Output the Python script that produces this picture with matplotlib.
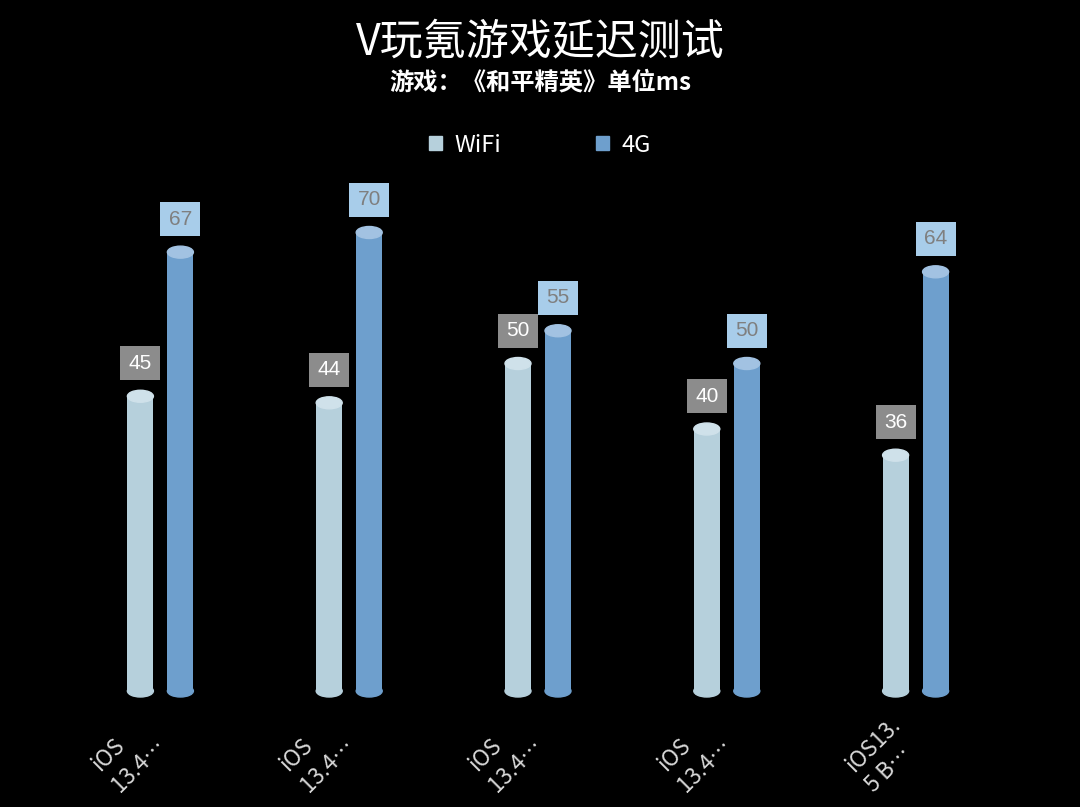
import matplotlib.pyplot as plt
from matplotlib.patches import Ellipse, Patch, Rectangle
from matplotlib.transforms import ScaledTranslation

plt.rcParams['font.family'] = ['Noto Sans CJK SC', 'DejaVu Sans']

# 数据
categories = ['iOS\n13.4…', 'iOS\n13.4…', 'iOS\n13.4…', 'iOS\n13.4…', 'iOS13.\n5 B…']
wifi = [45, 44, 50, 40, 36]
g4 = [67, 70, 55, 50, 64]
series_names = ['WiFi', '4G']

wifi_body = '#b6d0dc'
wifi_top = '#cfe1ea'
g4_body = '#6e9fcd'
g4_top = '#a2c2e2'

# 像素比例
ppx = 188.8   # px per category
ppy = 6.55    # px per ms

fig = plt.figure(figsize=(10.8, 8.07), dpi=100, facecolor='black')
ax = fig.add_axes([66 / 1080, (807 - 691 - 3 * ppy) / 807, 944 / 1080, 83 * ppy / 807])
ax.set_facecolor('black')
ax.set_xlim(-0.5, 4.5)
ax.set_ylim(-3, 80)

bw = 26 / ppx
off = 20 / ppx
eh = 12 / ppy
box_w = 40 / ppx
box_h = 34 / ppy
box_gap = 16 / ppy


def cylinders(xs, vals, body, top, box, txt):
    ax.bar(xs, vals, width=bw, color=body, zorder=2)
    for x, v in zip(xs, vals):
        ax.add_patch(Ellipse((x, 0), bw, eh, color=body, zorder=2))
        ax.add_patch(Ellipse((x, v), bw, eh, color=top, zorder=3))
        ax.add_patch(Rectangle((x - box_w / 2, v + box_gap), box_w, box_h,
                               fc=box, ec='none', zorder=3))
        ax.text(x, v + box_gap + box_h / 2, str(v), ha='center', va='center',
                fontsize=15, color=txt, family='Liberation Sans', zorder=4)


xs = list(range(len(categories)))
cylinders([x - off for x in xs], wifi, wifi_body, wifi_top, '#8c8c8c', 'white')
cylinders([x + off for x in xs], g4, g4_body, g4_top, '#a8cdea', '#7f7f7f')

for s in ax.spines.values():
    s.set_visible(False)
ax.set_yticks([])
ax.set_xticks(xs)
ax.set_xticklabels(categories, rotation=45, ha='right', va='top',
                   rotation_mode='anchor', fontsize=16, color='#d8d8d8',
                   linespacing=1.3, multialignment='left')
ax.tick_params(axis='x', length=0, pad=2)
for lab in ax.get_xticklabels():
    lab.set_transform(lab.get_transform() + ScaledTranslation(-0.27, 0, fig.dpi_scale_trans))

fig.text(0.5, 1 - 42 / 807, 'V玩氪游戏延迟测试', ha='center', va='center',
         fontsize=31, color='white')
fig.text(0.5, 1 - 82 / 807, '游戏：《和平精英》单位ms', ha='center', va='center',
         fontsize=17.5, color='white', fontweight='bold')

handles = [Patch(color=wifi_body), Patch(color=g4_body)]
leg = fig.legend(handles, series_names, loc='center', bbox_to_anchor=(0.5, 1 - 145 / 807),
                 ncol=2, frameon=False, fontsize=17, handlelength=0.55, handleheight=0.55,
                 columnspacing=4.0, handletextpad=0.55)
for t in leg.get_texts():
    t.set_color('white')

fig.savefig('out.png', facecolor='black')
